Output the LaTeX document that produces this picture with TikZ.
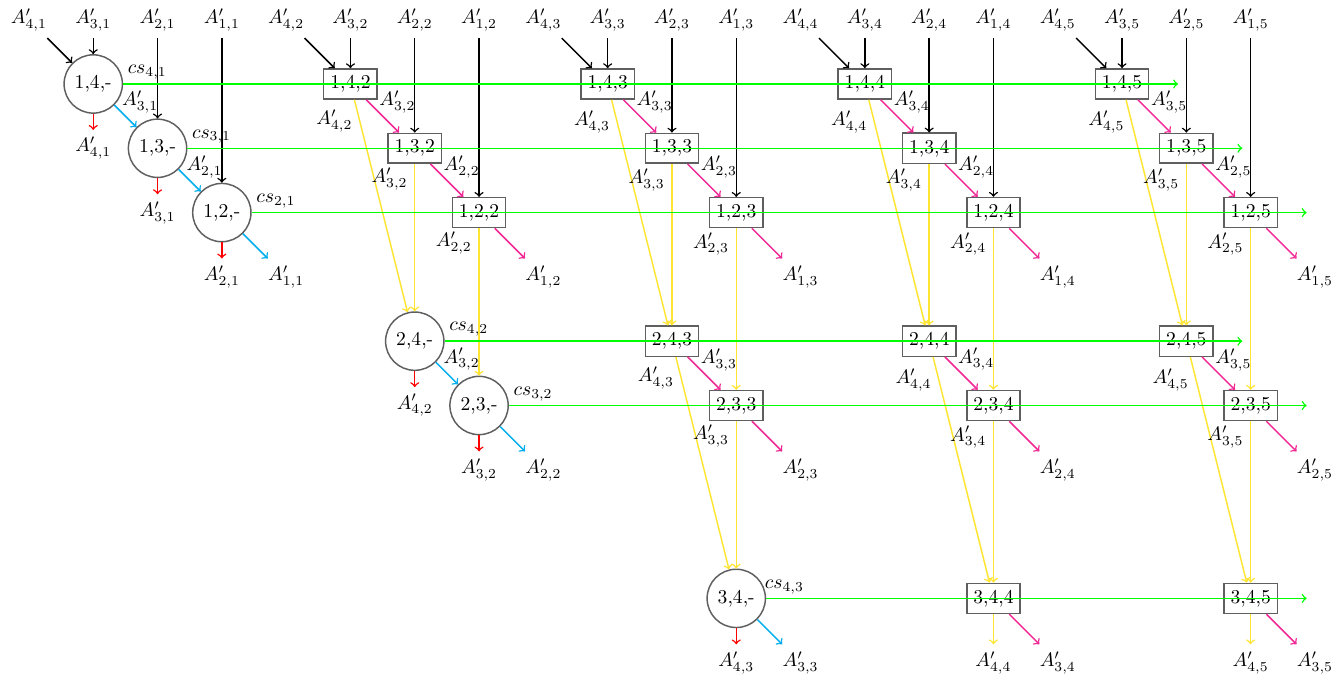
\documentclass[tikz,border=0pt]{standalone}
\definecolor{gline}{RGB}{0,255,0}
\definecolor{yline}{RGB}{255,228,50}
\definecolor{mline}{RGB}{240,40,150}
\definecolor{cline}{RGB}{0,174,239}
\definecolor{rline}{RGB}{255,0,0}
\definecolor{bord}{RGB}{95,95,95}
\tikzset{
  cnode/.style={circle,draw=bord},
  bnode/.style={rectangle,draw=bord},
  inarr/.style={->,draw=black},
  garr/.style={->,draw=gline},
  yarr/.style={->,draw=yline},
  marr/.style={->,draw=mline},
  carr/.style={->,draw=cline},
  rarr/.style={->,draw=rline},
  elab/.style={midway,anchor=south west,inner sep=0pt,xshift=-2pt,yshift=1pt,text=black},
  ylab/.style={pos=0.1,left,text=black},
  cslab/.style={above right,inner sep=2pt,text=black},
}
\begin{document}
\begin{tikzpicture}[x=1.153cm,y=-1.153cm,line width=0.75pt]
\useasboundingbox (0,0) rectangle (20.886,10.498);
% ---------- top labels
\foreach \j in {1,...,5}{
  \pgfmathsetmacro\xo{0.45+4*(\j-1)}
  \node (t4\j) at (\xo,0.306) {$A'_{4,\j}$};
  \node (t3\j) at (\xo+1,0.306) {$A'_{3,\j}$};
  \node (t2\j) at (\xo+2,0.306) {$A'_{2,\j}$};
  \node (t1\j) at (\xo+3,0.306) {$A'_{1,\j}$};
}
% ---------- block 1
\node[cnode] (b141) at (1.45,1.306) {1,4,-};
\node[cnode] (b131) at (2.45,2.306) {1,3,-};
\node[cnode] (b121) at (3.45,3.306) {1,2,-};
\node (o41) at (1.45,2.306) {$A'_{4,1}$};
\node (o31) at (2.45,3.306) {$A'_{3,1}$};
\node (o21) at (3.45,4.306) {$A'_{2,1}$};
\node (o11) at (4.45,4.306) {$A'_{1,1}$};
% ---------- blocks 2-5, rows 1-3
\foreach \j in {2,...,5}{
  \pgfmathsetmacro\xo{0.45+4*(\j-1)}
  \node[bnode] (b14\j) at (\xo+1,1.306) {1,4,\j};
  \node[bnode] (b13\j) at (\xo+2,2.306) {1,3,\j};
  \node[bnode] (b12\j) at (\xo+3,3.306) {1,2,\j};
  \node (o1\j) at (\xo+4,4.306) {$A'_{1,\j}$};
}
% ---------- block 2, rows 5-6
\node[cnode] (b242) at (6.45,5.306) {2,4,-};
\node[cnode] (b232) at (7.45,6.306) {2,3,-};
\node (o42) at (6.45,6.306) {$A'_{4,2}$};
\node (o32) at (7.45,7.306) {$A'_{3,2}$};
\node (o22) at (8.45,7.306) {$A'_{2,2}$};
% ---------- blocks 3-5, rows 5-6
\foreach \j in {3,4,5}{
  \pgfmathsetmacro\xo{0.45+4*(\j-1)}
  \node[bnode] (b24\j) at (\xo+2,5.306) {2,4,\j};
  \node[bnode] (b23\j) at (\xo+3,6.306) {2,3,\j};
  \node (o2\j) at (\xo+4,7.306) {$A'_{2,\j}$};
}
% ---------- block 3, row 9
\node[cnode] (b343) at (11.45,9.306) {3,4,-};
\node (o43) at (11.45,10.306) {$A'_{4,3}$};
\node (o33) at (12.45,10.306) {$A'_{3,3}$};
% ---------- blocks 4-5, row 9
\foreach \j in {4,5}{
  \pgfmathsetmacro\xo{0.45+4*(\j-1)}
  \node[bnode] (b34\j) at (\xo+3,9.306) {3,4,\j};
  \node (o4\j) at (\xo+3,10.306) {$A'_{4,\j}$};
  \node (o3\j) at (\xo+4,10.306) {$A'_{3,\j}$};
}
% ---------- cs labels
\node[cslab] (cs41) at (b141.east) {$cs_{4,1}$};
\node[cslab] (cs31) at (b131.east) {$cs_{3,1}$};
\node[cslab] (cs21) at (b121.east) {$cs_{2,1}$};
\node[cslab] (cs42) at (b242.east) {$cs_{4,2}$};
\node[cslab] (cs32) at (b232.east) {$cs_{3,2}$};
\node[cslab,xshift=-3pt] (cs43) at (b343.east) {$cs_{4,3}$};
% ---------- green ends
\coordinate (g1) at (18.32,1.306);
\coordinate (g2) at (19.32,2.306);
\coordinate (g3) at (20.32,3.306);
\coordinate (g5) at (19.32,5.306);
\coordinate (g6) at (20.32,6.306);
\coordinate (g9) at (20.32,9.306);
% ---------- input arrows
\foreach \j in {1,...,5}{
  \draw[inarr] (t4\j) -- (b14\j);
  \draw[inarr] (t3\j) -- (b14\j);
  \draw[inarr] (t2\j) -- (b13\j);
  \draw[inarr] (t1\j) -- (b12\j);
}
% ---------- block 1 edges
\draw[carr] (b141) -- (b131) node[elab] {$A'_{3,1}$};
\draw[carr] (b131) -- (b121) node[elab] {$A'_{2,1}$};
\draw[carr] (b121) -- (o11);
\draw[rarr] (b141) -- (o41);
\draw[rarr] (b131) -- (o31);
\draw[rarr] (b121) -- (o21);
% ---------- blocks 2-5 rows 1-3 edges
\foreach \j in {2,...,5}{
  \draw[marr] (b14\j) -- (b13\j) node[elab] {$A'_{3,\j}$};
  \draw[marr] (b13\j) -- (b12\j) node[elab] {$A'_{2,\j}$};
  \draw[marr] (b12\j) -- (o1\j);
  \draw[yarr] (b14\j) -- (b24\j) node[ylab] {$A'_{4,\j}$};
  \draw[yarr] (b13\j) -- (b24\j) node[ylab] {$A'_{3,\j}$};
  \draw[yarr] (b12\j) -- (b23\j) node[ylab] {$A'_{2,\j}$};
}
% ---------- block 2 rows 5-6 edges
\draw[carr] (b242) -- (b232) node[elab] {$A'_{3,2}$};
\draw[carr] (b232) -- (o22);
\draw[rarr] (b242) -- (o42);
\draw[rarr] (b232) -- (o32);
% ---------- blocks 3-5 rows 5-6 edges
\foreach \j in {3,4,5}{
  \draw[marr] (b24\j) -- (b23\j) node[elab] {$A'_{3,\j}$};
  \draw[marr] (b23\j) -- (o2\j);
  \draw[yarr] (b24\j) -- (b34\j) node[ylab] {$A'_{4,\j}$};
  \draw[yarr] (b23\j) -- (b34\j) node[ylab] {$A'_{3,\j}$};
}
% ---------- row 9 outputs
\draw[rarr] (b343) -- (o43);
\draw[carr] (b343) -- (o33);
\foreach \j in {4,5}{
  \draw[yarr] (b34\j) -- (o4\j);
  \draw[marr] (b34\j) -- (o3\j);
}
% ---------- green lines
\draw[garr] (b141) -- (g1);
\draw[garr] (b131) -- (g2);
\draw[garr] (b121) -- (g3);
\draw[garr] (b242) -- (g5);
\draw[garr] (b232) -- (g6);
\draw[garr] (b343) -- (g9);
\end{tikzpicture}
\end{document}
